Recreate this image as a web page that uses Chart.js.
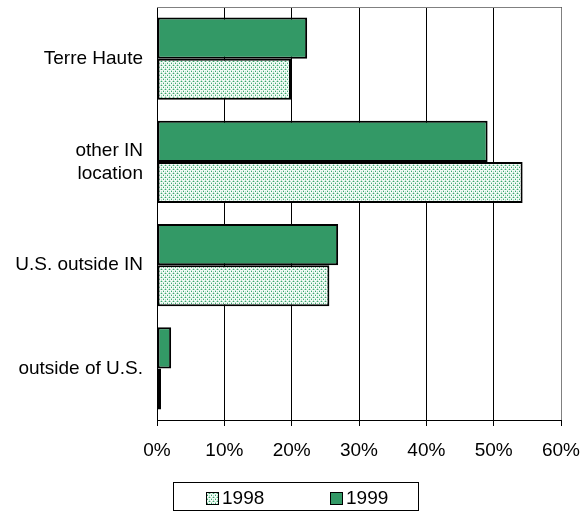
<!DOCTYPE html>
<html>
<head>
<meta charset="utf-8">
<script src="https://cdn.jsdelivr.net/npm/chart.js@4.4.1/dist/chart.umd.min.js"></script>
<style>
  html, body { margin: 0; padding: 0; background: #fff; }
  #wrap { width: 581px; height: 514px; }
</style>
</head>
<body>
<div id="wrap"><canvas id="chart" width="581" height="514"></canvas></div>
<script>
// データ
const categories = ['Terre Haute', ['other IN', 'location'], 'U.S. outside IN', 'outside of U.S.'];
const seriesNames = ['1998', '1999'];
const values1998 = [19.9, 54.3, 25.6, 0.6];
const values1999 = [22.3, 49.1, 26.9, 2.1];
const xTickValues = [0, 10, 20, 30, 40, 50, 60];

const GREEN = '#339966';
const FONT = '"Liberation Sans", Arial, sans-serif';

// 1998 用のドット模様
function makeDotPattern() {
    const c = document.createElement('canvas');
    c.width = 4;
    c.height = 4;
    const g = c.getContext('2d');
    g.fillStyle = '#f4fbf7';
    g.fillRect(0, 0, 4, 4);
    g.fillStyle = '#b4e0c8';
    g.fillRect(0, 1, 1, 1);
    g.fillRect(2, 1, 1, 1);
    g.fillRect(1, 3, 1, 1);
    g.fillRect(3, 3, 1, 1);
    g.fillRect(1, 0, 1, 1);
    g.fillRect(3, 2, 1, 1);
    g.fillStyle = '#3aa56e';
    g.fillRect(1, 1, 1, 1);
    g.fillRect(3, 3, 1, 1);
    return g.createPattern(c, 'repeat');
}
const dotPattern = makeDotPattern();

// 枠線（上と右）
const plotFrame = {
    id: 'plotFrame',
    beforeDatasetsDraw(chart) {
        const { ctx, chartArea: a } = chart;
        ctx.save();
        ctx.strokeStyle = '#808080';
        ctx.lineWidth = 1;
        ctx.beginPath();
        ctx.moveTo(a.left, a.top + 0.5);
        ctx.lineTo(a.right + 0.5, a.top + 0.5);
        ctx.lineTo(a.right + 0.5, a.bottom);
        ctx.stroke();
        ctx.restore();
    }
};

// 凡例（枠付き）
const boxedLegend = {
    id: 'boxedLegend',
    afterDraw(chart) {
        const ctx = chart.ctx;
        ctx.save();
        ctx.strokeStyle = '#000';
        ctx.lineWidth = 1;
        ctx.strokeRect(173.5, 482.5, 245, 28);

        const items = [
            { text: seriesNames[0], fill: dotPattern, x: 206 },
            { text: seriesNames[1], fill: GREEN, x: 330 }
        ];
        ctx.font = '19px ' + FONT;
        ctx.textBaseline = 'middle';
        items.forEach(item => {
            ctx.fillStyle = item.fill;
            ctx.fillRect(item.x, 492, 12, 12);
            ctx.strokeStyle = '#000';
            ctx.strokeRect(item.x + 0.5, 492.5, 12, 12);
            ctx.fillStyle = '#000';
            ctx.fillText(item.text, item.x + 16, 499);
        });
        ctx.restore();
    }
};

const ctx = document.getElementById('chart').getContext('2d');
const chart = new Chart(ctx, {
    type: 'bar',
    data: {
        labels: categories,
        datasets: [
            {
                label: seriesNames[1],
                data: values1999,
                backgroundColor: GREEN,
                borderColor: '#000',
                borderWidth: 2,
                borderSkipped: false
            },
            {
                label: seriesNames[0],
                data: values1998,
                backgroundColor: dotPattern,
                borderColor: '#000',
                borderWidth: 2,
                borderSkipped: false
            }
        ]
    },
    options: {
        indexAxis: 'y',
        responsive: false,
        animation: false,
        devicePixelRatio: 1,
        layout: {
            padding: { left: 0, top: 7, right: 20, bottom: 58 }
        },
        datasets: {
            bar: {
                categoryPercentage: 0.795,
                barPercentage: 1.0
            }
        },
        plugins: {
            legend: { display: false },
            tooltip: { enabled: false }
        },
        scales: {
            x: {
                min: 0,
                max: 60,
                afterBuildTicks(scale) {
                    scale.ticks = xTickValues.map(v => ({ value: v }));
                },
                afterFit(scale) {
                    scale.height = 36;
                    scale.paddingLeft = 0;
                    scale.paddingRight = 0;
                },
                ticks: {
                    color: '#000',
                    font: { family: FONT, size: 19 },
                    padding: 13,
                    maxRotation: 0,
                    callback: v => v + '%'
                },
                grid: {
                    color: '#000',
                    lineWidth: 1,
                    tickLength: 6,
                    drawTicks: true
                },
                border: { display: true, color: '#000', width: 1 }
            },
            y: {
                afterFit(scale) {
                    scale.width = 157;
                    scale.paddingTop = 0;
                    scale.paddingBottom = 0;
                },
                ticks: {
                    color: '#000',
                    font: { family: FONT, size: 19, lineHeight: 1.2 },
                    padding: 14
                },
                grid: { display: false, drawTicks: false },
                border: { display: true, color: '#000', width: 1 }
            }
        }
    },
    plugins: [plotFrame, boxedLegend]
});
</script>
</body>
</html>
